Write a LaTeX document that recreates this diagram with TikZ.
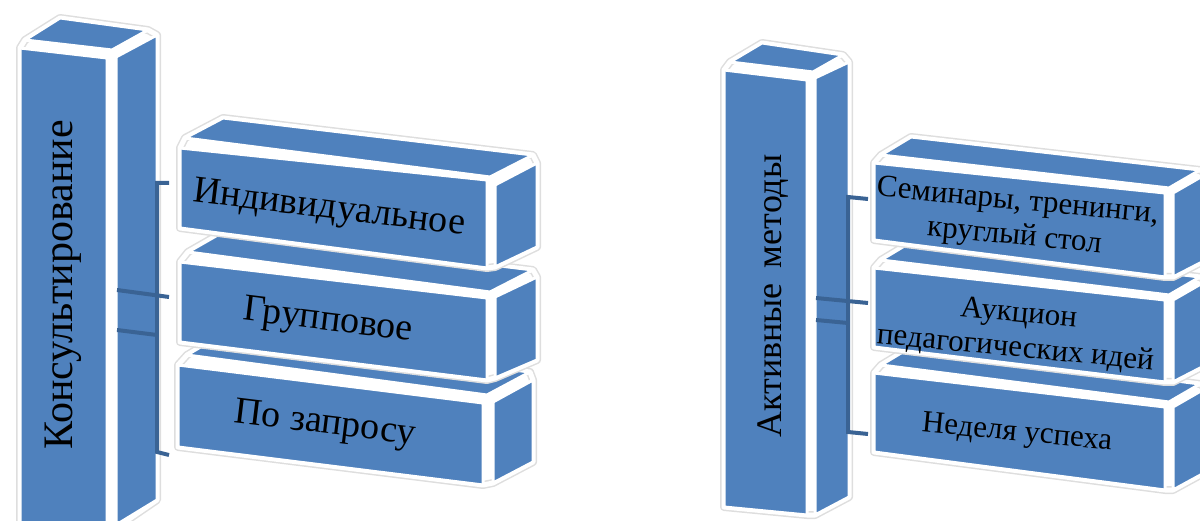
\documentclass[tikz,border=0pt]{standalone}
\usepackage{fontspec}
\setmainfont{Liberation Serif}
\definecolor{boxblue}{HTML}{4F81BD}
\definecolor{connblue}{HTML}{3A6394}
\tikzset{
  face/.style={fill=boxblue, draw=white, line width=3pt, line join=round},
  hullring/.style={draw=black!13, line width=8pt, line join=round, fill=white,
    postaction={draw=white, line width=5pt, line join=round}},
  conn/.style={draw=connblue, line width=4pt},
  colfont/.style={inner sep=0pt, text=black, font=\fontsize{42}{48}\selectfont},
  rcolfont/.style={inner sep=0pt, text=black, font=\fontsize{36}{42}\selectfont},
  lboxtext/.style={inner sep=0pt, text=black, font=\fontsize{38}{44}\selectfont},
  rboxtext/.style={inner sep=0pt, text=black, align=center, font=\fontsize{31}{35}\selectfont}
}
\begin{document}
\begin{tikzpicture}[x=1pt,y=-1pt]
\useasboundingbox (0,0) rectangle (1200,521);
\clip (0,0) rectangle (1200,521);

% ---------- left column ----------
\path[hullring] (20,530) -- (20,48) -- (25,40) -- (60,18) -- (148,30) -- (157,35) -- (157,500) -- (116,528) -- (107,530) -- cycle;
\path[face] (20,48) -- (107,58) -- (107,530) -- (20,530) -- cycle;
\path[face] (116,57) -- (157,35) -- (157,500) -- (116,525) -- cycle;
\path[face] (25,40) -- (60,18) -- (148,30) -- (112,50) -- cycle;

% ---------- left box 3 ----------
\path[hullring] (178,447) -- (178,365) -- (187,355) -- (221,335) -- (530,372) -- (533,380) -- (533,462) -- (493,483) -- (483,485) -- cycle;
\path[face] (187,355) -- (221,335) -- (530,372) -- (487,395) -- cycle;
\path[face] (178,365) -- (483,403) -- (483,485) -- (178,447) -- cycle;
\path[face] (493,402) -- (533,380) -- (533,462) -- (493,483) -- cycle;

% ---------- left box 2 ----------
\path[hullring] (180,342) -- (180,262) -- (188,252) -- (223,232) -- (533,270) -- (537,277) -- (537,360) -- (495,378) -- (487,380) -- cycle;
\path[face] (188,252) -- (223,232) -- (533,270) -- (490,292) -- cycle;
\path[face] (180,262) -- (487,298) -- (487,380) -- (180,342) -- cycle;
\path[face] (495,297) -- (537,277) -- (537,360) -- (495,378) -- cycle;

% ---------- left box 1 ----------
\path[hullring] (180,228) -- (180,148) -- (185,138) -- (223,118) -- (533,155) -- (537,163) -- (537,247) -- (495,267) -- (487,268) -- cycle;
\path[face] (185,138) -- (223,118) -- (533,155) -- (490,177) -- cycle;
\path[face] (180,148) -- (487,180) -- (487,268) -- (180,228) -- cycle;
\path[face] (495,185) -- (537,163) -- (537,247) -- (495,267) -- cycle;

% ---------- right column ----------
\path[hullring] (724,507) -- (724,70) -- (730,62) -- (762,43) -- (843,55) -- (849,62) -- (849,497) -- (815,515) -- (807,515) -- cycle;
\path[face] (724,70) -- (807,80) -- (807,515) -- (724,507) -- cycle;
\path[face] (815,78) -- (849,62) -- (849,497) -- (815,515) -- cycle;
\path[face] (730,62) -- (762,43) -- (843,55) -- (813,72) -- cycle;

% ---------- right box C ----------
\path[hullring] (874,452) -- (874,373) -- (881,365) -- (911,347) -- (1200,384) -- (1206,388) -- (1206,472) -- (1173,490) -- (1165,490) -- cycle;
\path[face] (881,365) -- (911,347) -- (1200,384) -- (1169,402) -- cycle;
\path[face] (874,373) -- (1165,407) -- (1165,490) -- (874,452) -- cycle;
\path[face] (1173,407) -- (1206,388) -- (1206,472) -- (1173,490) -- cycle;

% ---------- right box B ----------
\path[hullring] (874,347) -- (874,268) -- (881,260) -- (911,242) -- (1200,277) -- (1206,281) -- (1206,365) -- (1173,382) -- (1165,382) -- cycle;
\path[face] (881,260) -- (911,242) -- (1200,277) -- (1169,295) -- cycle;
\path[face] (874,268) -- (1165,300) -- (1165,382) -- (874,347) -- cycle;
\path[face] (1173,300) -- (1206,281) -- (1206,365) -- (1173,382) -- cycle;

% ---------- right box A ----------
\path[hullring] (874,240) -- (874,163) -- (881,155) -- (911,137) -- (1200,170) -- (1206,174) -- (1206,260) -- (1173,277) -- (1165,277) -- cycle;
\path[face] (881,155) -- (911,137) -- (1200,170) -- (1169,188) -- cycle;
\path[face] (874,163) -- (1165,193) -- (1165,277) -- (874,240) -- cycle;
\path[face] (1173,193) -- (1206,174) -- (1206,260) -- (1173,277) -- cycle;

% ---------- left connectors ----------
\coordinate (lvtop) at (157,183);
\coordinate (lvbot) at (157,452);
\coordinate (lt1) at (169,183);
\coordinate (lt2) at (169,297);
\coordinate (lt3) at (169,455);
\coordinate (lc1) at (117,290);
\coordinate (lc2) at (117,330);
\coordinate (lj2) at (157,335);
\draw[conn] (lt1) -- (lvtop) -- (lvbot) -- (lt3);
\draw[conn] (lc1) -- (lt2);
\draw[conn] (lc2) -- (lj2);

% ---------- right connectors ----------
\coordinate (rvtop) at (848,197);
\coordinate (rvbot) at (848,432);
\coordinate (rt1) at (868,199);
\coordinate (rt2) at (868,303);
\coordinate (rt3) at (868,434);
\coordinate (rc1) at (816,298);
\coordinate (rc2) at (816,320);
\coordinate (rj2) at (848,323);
\draw[conn] (rt1) -- (rvtop) -- (rvbot) -- (rt3);
\draw[conn] (rc1) -- (rt2);
\draw[conn] (rc2) -- (rj2);

% ---------- texts ----------
\node[colfont, rotate=90] (lcol) at (63,285) {Консультирование};
\node[lboxtext, rotate=-7] (lb1) at (329,210) {Индивидуальное};
\node[lboxtext, rotate=-7] (lb2) at (328,322) {Групповое};
\node[lboxtext, rotate=-7] (lb3) at (325,425) {По запросу};

\node[rcolfont, rotate=90] (rcol) at (773,296) {Активные\, методы};
\node[rboxtext, rotate=-5.5] (rb1) at (1016,220) {Семинары, тренинги,\\круглый стол};
\node[rboxtext, rotate=-5.5] (rb2) at (1017,332) {Аукцион\\педагогических идей};
\node[rboxtext, rotate=-5.5] (rb3) at (1017,434) {Неделя успеха};
\end{tikzpicture}
\end{document}
